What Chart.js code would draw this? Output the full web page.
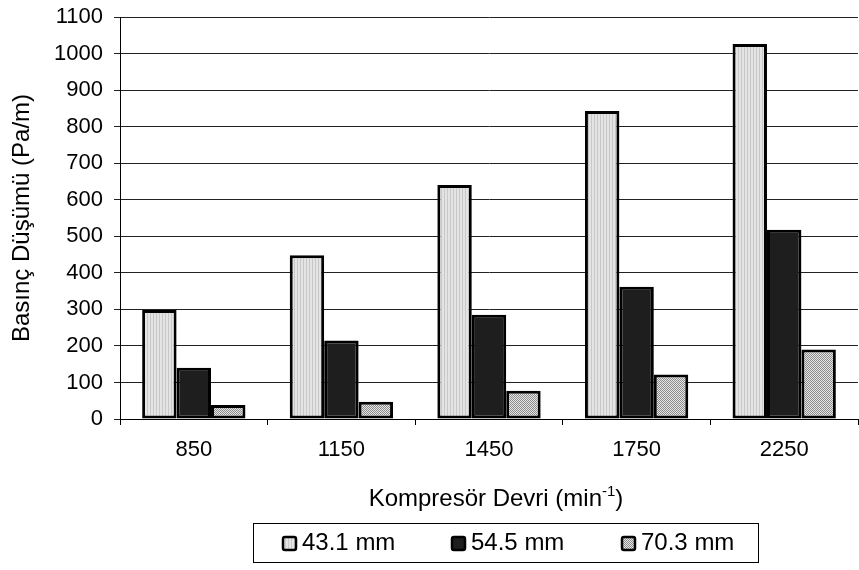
<!DOCTYPE html>
<html>
<head>
<meta charset="utf-8">
<script src="https://cdn.jsdelivr.net/npm/chart.js@4/dist/chart.umd.min.js"></script>
<style>
  html, body { margin: 0; padding: 0; background: #fff; }
  #wrap { width: 859px; height: 570px; }
</style>
</head>
<body>
<div id="wrap"><canvas id="chart"></canvas></div>
<script>
// --- Data ---
const devir = ['850', '1150', '1450', '1750', '2250'];
const seriesNames = ['43.1 mm', '54.5 mm', '70.3 mm'];
const d43 = [298, 448, 640, 843, 1026];
const d54 = [140, 215, 285, 362, 518];
const d70 = [38, 47, 77, 122, 190];
const yTicks = [0, 100, 200, 300, 400, 500, 600, 700, 800, 900, 1000, 1100];

const FONT = '"Liberation Sans", Arial, sans-serif';

// --- Fill patterns ---
function makePattern(w, h, paint) {
    const c = document.createElement('canvas');
    c.width = w; c.height = h;
    paint(c.getContext('2d'));
    return c.getContext('2d').createPattern(c, 'repeat');
}

const stripes = makePattern(3, 4, g => {
    g.fillStyle = '#e4e4e4';
    g.fillRect(0, 0, 3, 4);
    g.fillStyle = '#c8c8c8';
    g.fillRect(0, 0, 1, 4);
});
const solidDark = '#1e1e1e';
const checker = makePattern(2, 2, g => {
    g.fillStyle = '#e6e6e6';
    g.fillRect(0, 0, 2, 2);
    g.fillStyle = '#8c8c8c';
    g.fillRect(0, 0, 1, 1);
    g.fillRect(1, 1, 1, 1);
});
const fills = [stripes, solidDark, checker];

// rounded square for legend keys
function keyBox(ctx, x, y, s, r) {
    ctx.beginPath();
    ctx.moveTo(x + r, y);
    ctx.arcTo(x + s, y, x + s, y + s, r);
    ctx.arcTo(x + s, y + s, x, y + s, r);
    ctx.arcTo(x, y + s, x, y, r);
    ctx.arcTo(x, y, x + s, y, r);
    ctx.closePath();
}

// --- x title with superscript, and the boxed legend ---
const extras = {
    id: 'extras',
    afterDraw(chart) {
        const ctx = chart.ctx;
        const area = chart.chartArea;
        ctx.save();
        ctx.fillStyle = '#000';
        ctx.textBaseline = 'alphabetic';

        // Kompresör Devri (min^-1)
        const main = 'Kompresör Devri (min';
        const sup = '-1';
        const tail = ')';
        ctx.font = '24px ' + FONT;
        const wMain = ctx.measureText(main).width;
        const wTail = ctx.measureText(tail).width;
        ctx.font = '15px ' + FONT;
        const wSup = ctx.measureText(sup).width;
        let x = (area.left + area.right) / 2 + 7 - (wMain + wSup + wTail) / 2;
        const base = 506;
        ctx.font = '24px ' + FONT;
        ctx.textAlign = 'left';
        ctx.fillText(main, x, base);
        x += wMain;
        ctx.font = '15px ' + FONT;
        ctx.fillText(sup, x, base - 10);
        x += wSup;
        ctx.font = '24px ' + FONT;
        ctx.fillText(tail, x, base);

        // legend
        const box = { x: 253, y: 523, w: 505, h: 39 };
        const itemX = [283, 452, 622];
        ctx.strokeStyle = '#000';
        ctx.lineWidth = 1;
        ctx.strokeRect(box.x + 0.5, box.y + 0.5, box.w, box.h);
        ctx.font = '24px ' + FONT;
        ctx.textBaseline = 'middle';
        chart.data.datasets.forEach((ds, i) => {
            const mx = itemX[i], my = box.y + 14;
            keyBox(ctx, mx, my, 13, 2);
            ctx.fillStyle = ds.backgroundColor;
            ctx.fill();
            ctx.lineWidth = 2.5;
            ctx.strokeStyle = '#000';
            ctx.stroke();
            ctx.fillStyle = '#000';
            ctx.fillText(ds.label, mx + 19, box.y + 20);
        });
        ctx.restore();
    }
};

const tickFont = { family: FONT, size: 22 };

new Chart(document.getElementById('chart'), {
    type: 'bar',
    data: {
        labels: devir,
        datasets: [d43, d54, d70].map((vals, i) => ({
            label: seriesNames[i],
            data: vals,
            backgroundColor: fills[i],
            borderColor: '#000',
            borderWidth: 3,
            borderSkipped: false
        }))
    },
    options: {
        responsive: true,
        maintainAspectRatio: false,
        animation: false,
        layout: { padding: { top: 17, right: 1, bottom: 65, left: 0 } },
        datasets: { bar: { barPercentage: 1, categoryPercentage: 0.7 } },
        plugins: {
            legend: { display: false },
            tooltip: { enabled: false }
        },
        scales: {
            x: {
                offset: true,
                grid: {
                    offset: true,
                    drawOnChartArea: false,
                    color: '#000',
                    tickLength: 6
                },
                border: { color: '#000', width: 1 },
                ticks: { color: '#000', font: tickFont, padding: 12 },
                afterFit: s => { s.height = 86; }
            },
            y: {
                min: 0,
                max: 1100,
                afterBuildTicks: s => { s.ticks = yTicks.map(v => ({ value: v })); },
                grid: { color: '#222', tickLength: 6 },
                border: { color: '#000', width: 1 },
                ticks: { color: '#000', font: tickFont, padding: 11, callback: v => String(v) },
                title: {
                    display: true,
                    text: 'Basınç Düşümü (Pa/m)',
                    color: '#000',
                    font: { family: FONT, size: 24 },
                    padding: { top: 8, bottom: 0 }
                },
                afterFit: s => {
                    s.width = 120;
                    s.paddingTop = 0;
                    s.paddingBottom = 0;
                }
            }
        }
    },
    plugins: [extras]
});
</script>
</body>
</html>
